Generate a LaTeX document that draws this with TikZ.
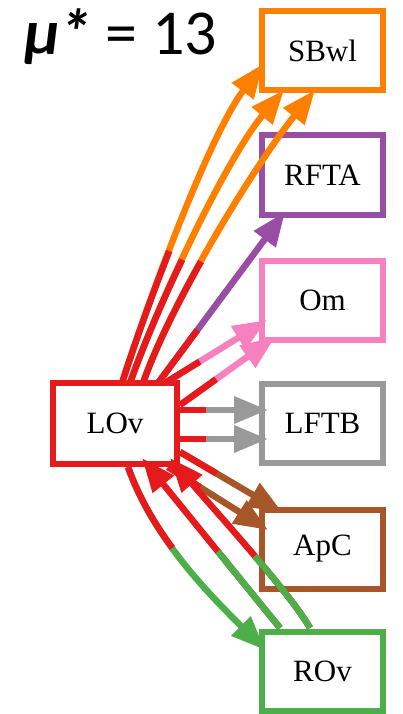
\documentclass[tikz,border=0pt]{standalone}
\usepackage{fontspec}
\setmainfont{Liberation Serif}
\newfontfamily\titlefont{Carlito}
\usetikzlibrary{arrows.meta,calc}
\definecolor{cred}{HTML}{E41A1C}
\definecolor{corange}{HTML}{FF7F00}
\definecolor{cpurple}{HTML}{984EA3}
\definecolor{cpink}{HTML}{F781BF}
\definecolor{cgray}{HTML}{999999}
\definecolor{cbrown}{HTML}{A65628}
\definecolor{cgreen}{HTML}{4DAF4A}
% curved two-colour edge: #1 first colour, #2 second colour (with tip), #3..#6 Bezier points, #7 split parameter
\newcommand\bicurve[7]{%
  \draw[edge,#2,tip] (#3) .. controls (#4) and (#5) .. (#6);
  \coordinate (q0) at ($(#3)!#7!(#4)$);
  \coordinate (q1) at ($(#4)!#7!(#5)$);
  \coordinate (q2) at ($(#5)!#7!(#6)$);
  \coordinate (r0) at ($(q0)!#7!(q1)$);
  \coordinate (r1) at ($(q1)!#7!(q2)$);
  \coordinate (sm) at ($(r0)!#7!(r1)$);
  \draw[edge,#1] (#3) .. controls (q0) and (r0) .. (sm);
}
% straight two-colour edge
\newcommand\biline[5]{%
  \draw[edge,#2,tip] (#3) -- (#4);
  \draw[edge,#1] (#3) -- ($(#3)!#5!(#4)$);
}
\begin{document}
\begin{tikzpicture}[x=1pt,y=1pt,
  box/.style={draw, line width=6pt, fill=white, minimum width=121pt, minimum height=79pt,
    inner sep=0pt, font=\fontsize{31}{36}\selectfont},
  edge/.style={line width=6.5pt},
  tip/.style={-{Triangle[length=34pt,width=26pt]}}]
\useasboundingbox (0,0) rectangle (403,-714);

\node[anchor=base west, inner sep=0pt, font=\titlefont\fontsize{64}{66}\selectfont] (title)
  at (24,-55) {\textbf{\textit{μ*}} = 13};

\node[box,draw=corange] (SBwl) at (322.5,-50.5) {SBwl};
\node[box,draw=cpurple] (RFTA) at (322.5,-175) {RFTA};
\node[box,draw=cpink] (Om) at (322.5,-300.5) {Om};
\node[box,draw=cgray] (LFTB) at (322.5,-423.5) {LFTB};
\node[box,draw=cbrown] (ApC) at (322.5,-549) {ApC};
\node[box,draw=cgreen] (ROv) at (322.5,-671.5) {ROv};
\node[box,draw=cred,minimum width=124pt,minimum height=81pt] (LOv) at (115,-423.5) {LOv};

% LOv -> SBwl
\coordinate (a0) at (122,-383); \coordinate (a1) at (152,-290); \coordinate (a2) at (210,-135); \coordinate (a3) at (263,-64);
\coordinate (b0) at (130,-383); \coordinate (b1) at (162,-293); \coordinate (b2) at (229,-155); \coordinate (b3) at (284,-90);
\coordinate (c0) at (143,-383); \coordinate (c1) at (173,-298); \coordinate (c2) at (255,-165); \coordinate (c3) at (315,-90);
\bicurve{cred}{corange}{a0}{a1}{a2}{a3}{0.4}
\bicurve{cred}{corange}{b0}{b1}{b2}{b3}{0.4}
\bicurve{cred}{corange}{c0}{c1}{c2}{c3}{0.41}
% LOv -> RFTA
\coordinate (d0) at (158,-383); \coordinate (d3) at (285,-212);
\biline{cred}{cpurple}{d0}{d3}{0.31}
% LOv -> Om
\coordinate (e0) at (165,-383); \coordinate (e3) at (267,-320);
\coordinate (f0) at (180,-405); \coordinate (f3) at (275,-337);
\biline{cred}{cpink}{e0}{e3}{0.34}
\biline{cred}{cpink}{f0}{f3}{0.38}
% LOv -> LFTB
\coordinate (g0) at (180,-410); \coordinate (g3) at (268,-410);
\coordinate (h0) at (180,-439); \coordinate (h3) at (268,-439);
\biline{cred}{cgray}{g0}{g3}{0.3}
\biline{cred}{cgray}{h0}{h3}{0.3}
% LOv -> ApC
\coordinate (i0) at (180,-452); \coordinate (i3) at (282,-512);
\coordinate (j0) at (168,-467); \coordinate (j3) at (268,-530);
\biline{cred}{cbrown}{i0}{i3}{0.36}
\biline{cred}{cbrown}{j0}{j3}{0.32}
% LOv -> ROv
\coordinate (k0) at (128,-467); \coordinate (k1) at (153,-537); \coordinate (k2) at (205,-590); \coordinate (k3) at (265,-650);
\bicurve{cred}{cgreen}{k0}{k1}{k2}{k3}{0.42}
% ROv -> LOv
\coordinate (l0) at (280,-628); \coordinate (l3) at (142,-458);
\biline{cgreen}{cred}{l0}{l3}{0.45}
\coordinate (m0) at (310,-628); \coordinate (m1) at (290,-593); \coordinate (m2) at (217,-513); \coordinate (m3) at (170,-458);
\bicurve{cgreen}{cred}{m0}{m1}{m2}{m3}{0.47}
\end{tikzpicture}
\end{document}
